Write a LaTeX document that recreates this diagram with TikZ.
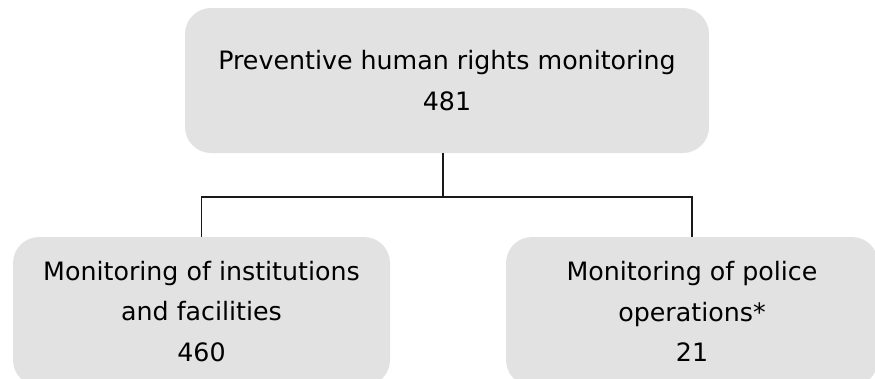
\documentclass[tikz,border=0pt]{standalone}
\usepackage{fontspec}
\setmainfont{DejaVu Sans}
\definecolor{boxgray}{HTML}{E2E2E2}
\begin{document}
\begin{tikzpicture}[x=1pt,y=1pt,
  box/.style={draw=none, fill=boxgray, rounded corners=26pt, align=center,
    font=\fontsize{25.3}{40.5}\selectfont, inner sep=0pt},
  conn/.style={draw=black!90, line width=1.4pt}]
\useasboundingbox (0,0) rectangle (875,-378);
\node[box, minimum width=524pt, minimum height=145pt] (top) at (447,-80.5)
  {Preventive human rights monitoring\\481};
\node[box, minimum width=377pt, minimum height=149pt] (L) at (201.5,-311.5)
  {Monitoring of institutions\\and facilities\\460};
\node[box, minimum width=372pt, minimum height=149pt] (R) at (692,-311.5)
  {Monitoring of police\\operations*\\21};
\coordinate (j) at (443,-197);
\draw[conn] (top.south -| j) -- (j);
\draw[conn] (j) -| (L.north);
\draw[conn] (j) -| (R.north);
\end{tikzpicture}
\end{document}
